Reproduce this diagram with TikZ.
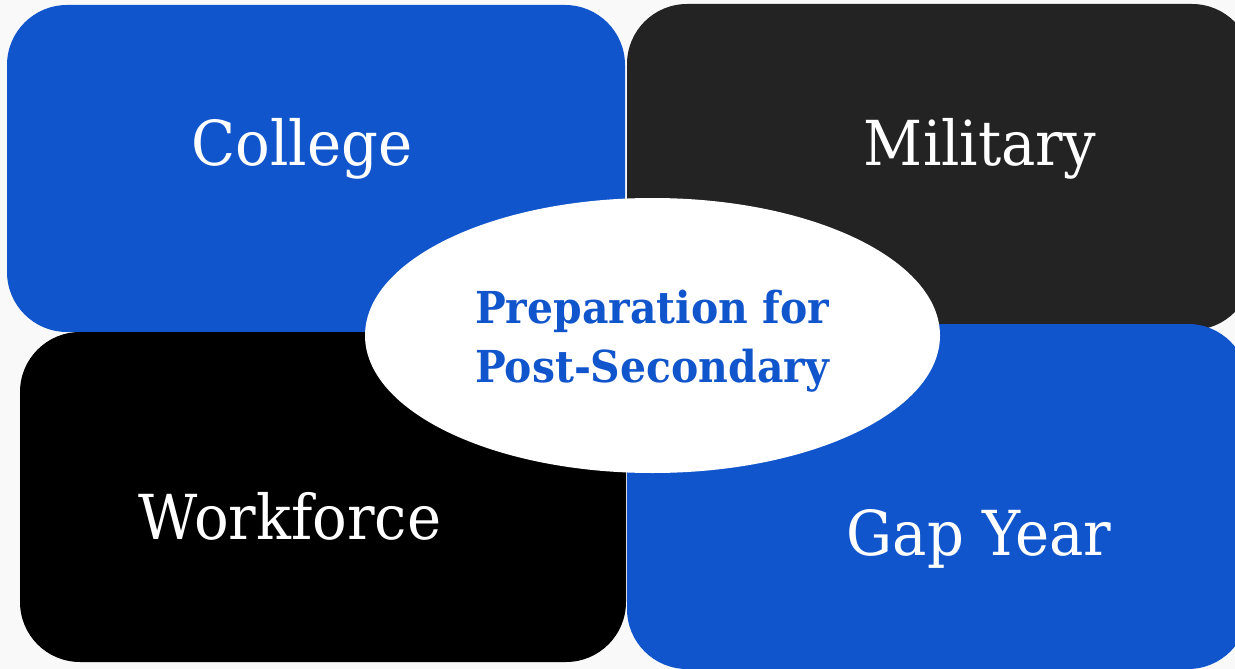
\documentclass[tikz,border=0pt]{standalone}
\usepackage{fontspec}
\usetikzlibrary{shapes.geometric}
\newfontfamily\slab{DejaVu Serif}[FakeStretch=0.93]
\definecolor{bblue}{HTML}{1155CC}
\definecolor{mgray}{HTML}{232323}
\definecolor{bg}{HTML}{F9F9F9}
\begin{document}
\begin{tikzpicture}[x=1pt,y=-1pt,
  card/.style={rounded corners=60pt},
  cardlabel/.style={anchor=base,text=white,inner sep=0pt,font=\slab\fontsize{62}{70}\selectfont},
  titletext/.style={anchor=base,text=bblue,inner sep=0pt,font=\slab\bfseries\fontsize{44}{50}\selectfont}]
\useasboundingbox (0,0) rectangle (1235,669);
\clip (0,0) rectangle (1235,669);
\fill[bg] (0,0) rectangle (1235,669);
% cards
\fill[card,bblue] (7,5) rectangle (625,332);
\fill[card,mgray] (627,4) rectangle (1252,330);
\fill[card,black] (20,332) rectangle (626,662);
\fill[card,bblue] (627,324) rectangle (1248,669);
% labels
\node[cardlabel] (college) at (302,165) {College};
\node[cardlabel] (military) at (980,165) {Military};
\node[cardlabel] (workforce) at (290,539) {Workforce};
\node[cardlabel] (gapyear) at (979,555) {Gap Year};
% center
\node[ellipse,fill=white,minimum width=575pt,minimum height=275pt,inner sep=0pt] (hub) at (652.5,335.5) {};
\node[titletext] (title1) at (652,323) {Preparation for};
\node[titletext] (title2) at (652,382) {Post-Secondary};
\end{tikzpicture}
\end{document}
